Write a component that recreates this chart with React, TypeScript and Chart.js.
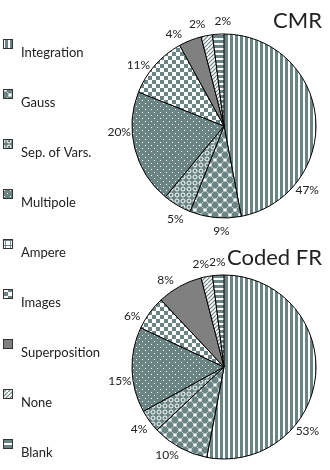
import { useEffect, useRef } from "react";
import { Chart, registerables } from "chart.js";

Chart.register(...registerables);

// ---------- data ----------
const CATEGORIES = [
  "Integration",
  "Gauss",
  "Sep. of Vars.",
  "Multipole",
  "Ampere",
  "Images",
  "Superposition",
  "None",
  "Blank",
];
const CMR_VALUES = [47, 9, 5, 20, 0, 11, 4, 2, 2];
const CODED_FR_VALUES = [53, 10, 4, 15, 0, 6, 8, 2, 2];
const CHART_TITLES = ["CMR", "Coded FR"];

// ---------- style ----------
const INK = "#6b8585";
const TEXT = "#222222";
const FONT = "Lato, 'Open Sans', sans-serif";
// angular nudges (degrees, clockwise) of the percentage labels from slice mid-angle
const LABEL_NUDGE_CMR = [43, -4, -3, 11, 0, -6, -7, -4, 3];
const LABEL_NUDGE_FR = [32, 4, 0, -6, 0, -7, -5, -2, 0];

type Draw = (g: CanvasRenderingContext2D, w: number, h: number) => void;
function tile(w: number, h: number, draw: Draw) {
  const c = document.createElement("canvas");
  c.width = w;
  c.height = h;
  const g = c.getContext("2d")!;
  draw(g, w, h);
  return c;
}

function blob(g: CanvasRenderingContext2D, cx: number, cy: number, r: number) {
  const k = r * 0.45;
  g.beginPath();
  g.moveTo(cx - k, cy - r);
  g.lineTo(cx + k, cy - r);
  g.lineTo(cx + r, cy - k);
  g.lineTo(cx + r, cy + k);
  g.lineTo(cx + k, cy + r);
  g.lineTo(cx - k, cy + r);
  g.lineTo(cx - r, cy + k);
  g.lineTo(cx - r, cy - k);
  g.closePath();
  g.fill();
}

function makePatterns(ctx: CanvasRenderingContext2D): (CanvasPattern | string)[] {
  const p = (c: HTMLCanvasElement) => ctx.createPattern(c, "repeat")!;
  return [
    // Integration: vertical stripes
    p(
      tile(5, 5, (g) => {
        g.fillStyle = "#fff";
        g.fillRect(0, 0, 5, 5);
        g.fillStyle = INK;
        g.fillRect(0, 0, 3, 5);
      })
    ),
    // Gauss: rounded diamonds on white
    p(
      tile(10, 10, (g) => {
        g.fillStyle = "#fff";
        g.fillRect(0, 0, 10, 10);
        g.fillStyle = INK;
        const pts: [number, number][] = [
          [5, 5],
          [0, 0],
          [10, 0],
          [0, 10],
          [10, 10],
        ];
        pts.forEach(([x, y]) => {
          g.save();
          g.translate(x, y);
          g.rotate(Math.PI / 4);
          blob(g, 0, 0, 3.3);
          g.restore();
        });
      })
    ),
    // Sep. of Vars.: rings on dark
    p(
      tile(6, 6, (g) => {
        g.fillStyle = INK;
        g.fillRect(0, 0, 6, 6);
        g.strokeStyle = "#fff";
        g.lineWidth = 1;
        g.beginPath();
        g.arc(3, 3, 2, 0, Math.PI * 2);
        g.stroke();
      })
    ),
    // Multipole: white dots on dark
    p(
      tile(6, 6, (g) => {
        g.fillStyle = INK;
        g.fillRect(0, 0, 6, 6);
        g.fillStyle = "#fff";
        g.fillRect(1, 1, 1, 1);
        g.fillRect(4, 4, 1, 1);
      })
    ),
    // Ampere: grid
    p(
      tile(5, 5, (g) => {
        g.fillStyle = INK;
        g.fillRect(0, 0, 5, 5);
        g.fillStyle = "#fff";
        g.fillRect(1, 1, 4, 4);
      })
    ),
    // Images: checkerboard
    p(
      tile(8, 8, (g) => {
        g.fillStyle = "#fff";
        g.fillRect(0, 0, 8, 8);
        g.fillStyle = INK;
        g.fillRect(0, 0, 4, 4);
        g.fillRect(4, 4, 4, 4);
      })
    ),
    // Superposition: solid grey
    "#808080",
    // None: diagonal waves
    p(
      tile(8, 8, (g) => {
        g.fillStyle = "#fff";
        g.fillRect(0, 0, 8, 8);
        g.strokeStyle = INK;
        g.lineWidth = 1.2;
        g.beginPath();
        g.moveTo(-1, 9);
        g.lineTo(9, -1);
        g.moveTo(-1, 5);
        g.lineTo(5, -1);
        g.moveTo(3, 9);
        g.lineTo(9, 3);
        g.stroke();
      })
    ),
    // Blank: horizontal stripes
    p(
      tile(5, 5, (g) => {
        g.fillStyle = "#fff";
        g.fillRect(0, 0, 5, 5);
        g.fillStyle = INK;
        g.fillRect(0, 0, 5, 3);
      })
    ),
  ];
}

function pieLabels(nudge: number[], title: string, titleY: number) {
  return {
    id: "pieLabels",
    afterDatasetsDraw(chart: any) {
      const ctx: CanvasRenderingContext2D = chart.ctx;
      const meta = chart.getDatasetMeta(0);
      const values: number[] = chart.data.datasets[0].data;
      ctx.save();
      ctx.fillStyle = TEXT;
      ctx.font = `12px ${FONT}`;
      ctx.textAlign = "center";
      ctx.textBaseline = "middle";
      meta.data.forEach((el: any, i: number) => {
        const v = values[i];
        if (!v) return;
        const { x, y, startAngle, endAngle, outerRadius } = el.getProps(
          ["x", "y", "startAngle", "endAngle", "outerRadius"],
          true
        );
        const a = (startAngle + endAngle) / 2 + ((nudge[i] || 0) * Math.PI) / 180;
        const r = outerRadius + 13;
        ctx.fillText(`${v}%`, x + Math.cos(a) * r, y + Math.sin(a) * r);
      });
      ctx.font = `22px ${FONT}`;
      ctx.textAlign = "right";
      ctx.textBaseline = "alphabetic";
      ctx.fillText(title, chart.width - 8, titleY);
      ctx.restore();
    },
  };
}

function sideLegend(patterns: (CanvasPattern | string)[]) {
  return {
    id: "sideLegend",
    afterDraw(chart: any) {
      const ctx: CanvasRenderingContext2D = chart.ctx;
      ctx.save();
      CATEGORIES.forEach((label, i) => {
        const top = 39 + i * 50;
        ctx.fillStyle = patterns[i] as any;
        ctx.fillRect(3, top, 10, 10);
        ctx.strokeStyle = "#333";
        ctx.lineWidth = 1;
        ctx.strokeRect(3.5, top + 0.5, 9, 9);
        ctx.fillStyle = TEXT;
        ctx.font = `13px ${FONT}`;
        ctx.textAlign = "left";
        ctx.textBaseline = "middle";
        ctx.fillText(label, 21, top + 14);
      });
      ctx.restore();
    },
  };
}

function makePie(
  canvas: HTMLCanvasElement,
  values: number[],
  padding: { left: number; right: number; top: number; bottom: number },
  plugins: any[]
) {
  const ctx = canvas.getContext("2d")!;
  const patterns = makePatterns(ctx);
  return new Chart(ctx, {
    type: "pie",
    data: {
      labels: CATEGORIES,
      datasets: [
        {
          data: values,
          backgroundColor: patterns as any,
          borderColor: "#000",
          borderWidth: 1,
          hoverOffset: 0,
          offset: 0,
          radius: 92,
        } as any,
      ],
    },
    options: {
      animation: false,
      responsive: false,
      events: [],
      layout: { padding },
      plugins: { legend: { display: false }, tooltip: { enabled: false }, title: { display: false } },
    },
    plugins,
  });
}

export default function App() {
  const topRef = useRef<HTMLCanvasElement>(null);
  const botRef = useRef<HTMLCanvasElement>(null);

  useEffect(() => {
    document.body.style.margin = "0";
    const topCanvas = topRef.current!;
    const botCanvas = botRef.current!;
    const legendPatterns = makePatterns(topCanvas.getContext("2d")!);
    const c1 = makePie(
      topCanvas,
      CMR_VALUES,
      { left: 124, right: 6, top: 26, bottom: 244 },
      [pieLabels(LABEL_NUDGE_CMR, CHART_TITLES[0], 28), sideLegend(legendPatterns)]
    );
    const c2 = makePie(
      botCanvas,
      CODED_FR_VALUES,
      { left: 124, right: 6, top: 32, bottom: 3 },
      [pieLabels(LABEL_NUDGE_FR, CHART_TITLES[1], 30)]
    );
    return () => {
      c1.destroy();
      c2.destroy();
    };
  }, []);

  return (
    <div style={{ position: "relative", width: 330, height: 470, background: "#fff" }}>
      <canvas
        ref={topRef}
        width={330}
        height={470}
        style={{ position: "absolute", left: 0, top: 0, width: 330, height: 470 }}
      />
      <canvas
        ref={botRef}
        width={330}
        height={235}
        style={{ position: "absolute", left: 0, top: 235, width: 330, height: 235 }}
      />
    </div>
  );
}
